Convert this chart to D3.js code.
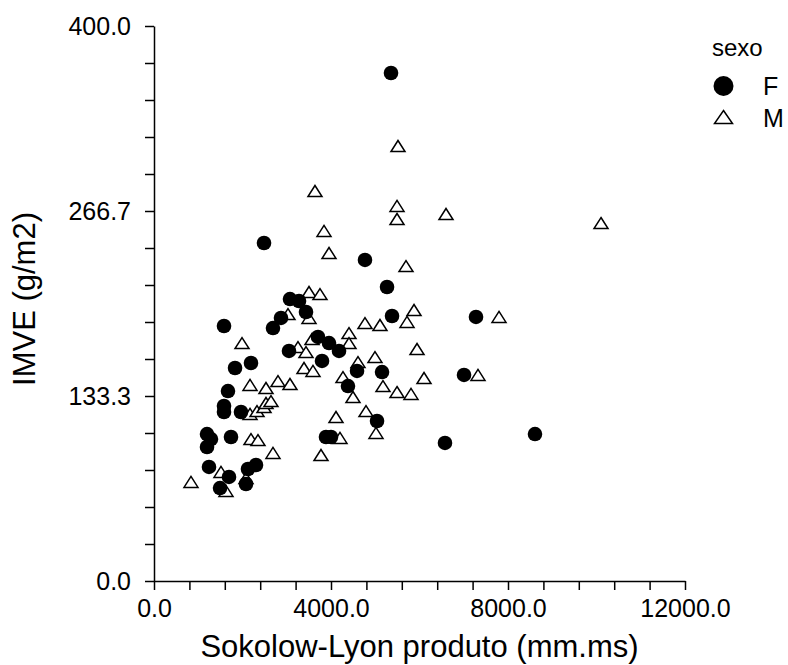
<!DOCTYPE html>
<html>
<head>
<meta charset="utf-8">
<script src="https://cdn.jsdelivr.net/npm/d3@7"></script>
<style>
  body { margin: 0; background: #fff; }
  svg { display: block; font-family: "Liberation Sans", Arial, sans-serif; }
  .axis path, .axis line { stroke: #000; stroke-width: 1.5; }
</style>
</head>
<body>
<script>
// sexo = F (filled circles)
const femX = [5356, 2486, 4768, 5266, 3073, 3277, 3435, 2870, 1582, 2689,
              3706, 3955, 3051, 4181, 3797, 1831, 2192, 1672, 1582, 1582,
              1966, 4588, 5153, 4384, 5040, 3887, 4000, 1198, 1288, 1198,
              1740, 1243, 1695, 2124, 2305, 1492, 2079, 5379, 7277, 7006,
              6576, 8610];
const femY = [366.1, 243.6, 231.4, 211.9, 203.2, 201.8, 193.9, 189.6, 183.8, 182.3,
              175.9, 171.5, 165.8, 165.8, 158.6, 153.5, 157.1, 136.9, 126.1, 121.8,
              121.8, 151.4, 150.6, 140.5, 115.3, 103.8, 103.8, 105.9, 102.3, 96.6,
              103.8, 82.2, 75.0, 80.7, 83.6, 67.0, 69.9, 191.0, 190.3, 148.5,
              99.5, 105.9];

// sexo = M (open triangles)
const masX = [5514, 3638, 5492, 5492, 6599, 10102, 3842, 3955, 5695, 3503,
              3751, 3028, 3503, 1989, 3254, 3571, 3435, 3390, 3593, 2170,
              2531, 2802, 3073, 2170, 2328, 2486, 2531, 2644, 4113, 2192,
              2350, 2689, 3774, 4203, 1514, 836, 1627, 2079, 5876, 5718,
              4768, 5107, 4407, 4407, 4610, 4994, 5944, 4271, 5175, 5492,
              5808, 6102, 7797, 7322, 4497, 4791, 5017];
const masY = [313.5, 281.1, 270.3, 260.9, 264.5, 258.0, 252.3, 236.4, 227.0, 208.3,
              206.8, 192.4, 189.6, 171.5, 168.6, 174.4, 165.0, 153.5, 151.4, 141.3,
              139.1, 144.1, 142.0, 120.4, 122.5, 125.4, 128.3, 129.7, 118.2, 102.3,
              101.6, 92.3, 90.8, 103.1, 78.6, 71.4, 64.9, 74.2, 195.3, 186.7,
              185.9, 184.5, 178.7, 171.5, 157.8, 161.4, 167.2, 147.0, 140.5, 136.2,
              134.8, 146.3, 190.3, 148.5, 132.6, 122.5, 106.7];

const xTicks = d3.range(0, 12001, 800);
const xLabels = [0, 4000, 8000, 12000];
const yTicks = d3.range(0, 16).map(i => i * 400 / 15);
const yLabels = [0, 400 / 3, 800 / 3, 400];

const width = 788, height = 665;
const margin = {top: 26, right: 103, bottom: 84, left: 154};

const svg = d3.select("body").append("svg")
    .attr("width", width)
    .attr("height", height);

const x = d3.scaleLinear().domain([0, 12000]).range([margin.left, width - margin.right]);
const y = d3.scaleLinear().domain([0, 400]).range([height - margin.bottom, margin.top]);

const isLabel = (list, v) => list.some(l => Math.abs(l - v) < 1e-6);

svg.append("g")
    .attr("class", "axis")
    .attr("transform", "translate(0," + y(0) + ")")
    .call(d3.axisBottom(x).tickValues(xTicks).tickSize(9).tickSizeOuter(0)
        .tickFormat(d => isLabel(xLabels, d) ? d3.format(".1f")(d) : ""))
    .call(g => g.selectAll("text")
        .attr("font-size", 25).attr("font-family", "Liberation Sans, Arial, sans-serif")
        .attr("fill", "#000").attr("dy", "1.05em").attr("y", 10));

svg.append("g")
    .attr("class", "axis")
    .attr("transform", "translate(" + x(0) + ",0)")
    .call(d3.axisLeft(y).tickValues(yTicks).tickSize(9).tickSizeOuter(0)
        .tickFormat(d => isLabel(yLabels, d) ? d3.format(".1f")(d) : ""))
    .call(g => g.selectAll("text")
        .attr("font-size", 25).attr("font-family", "Liberation Sans, Arial, sans-serif")
        .attr("fill", "#000").attr("x", -23));

// axis titles
svg.append("text")
    .attr("x", (x(0) + x(12000)) / 2)
    .attr("y", 657)
    .attr("text-anchor", "middle")
    .attr("font-size", 31)
    .text("Sokolow-Lyon produto (mm.ms)");

svg.append("text")
    .attr("transform", "translate(35," + 299 + ") rotate(-90)")
    .attr("text-anchor", "middle")
    .attr("font-size", 31)
    .text("IMVE (g/m2)");

// triangle shape, width w, height h, centred
function tri(w, h) {
    return "M0," + (-h / 2) + "L" + (w / 2) + "," + (h / 2) + "L" + (-w / 2) + "," + (h / 2) + "Z";
}

svg.append("g").selectAll("path")
    .data(d3.zip(masX, masY))
    .enter().append("path")
    .attr("d", tri(14, 11))
    .attr("transform", d => "translate(" + x(d[0]) + "," + y(d[1]) + ")")
    .attr("fill", "#fff")
    .attr("stroke", "#000")
    .attr("stroke-width", 1.5);

svg.append("g").selectAll("circle")
    .data(d3.zip(femX, femY))
    .enter().append("circle")
    .attr("cx", d => x(d[0]))
    .attr("cy", d => y(d[1]))
    .attr("r", 7.3)
    .attr("fill", "#000");

// legend
const legend = svg.append("g");
legend.append("text").attr("x", 712).attr("y", 56).attr("font-size", 24).text("sexo");
legend.append("circle").attr("cx", 723.5).attr("cy", 86).attr("r", 10).attr("fill", "#000");
legend.append("text").attr("x", 763).attr("y", 95).attr("font-size", 25).text("F");
legend.append("path").attr("d", tri(18, 13))
    .attr("transform", "translate(723.5,117)")
    .attr("fill", "#fff").attr("stroke", "#000").attr("stroke-width", 1.5);
legend.append("text").attr("x", 763).attr("y", 127).attr("font-size", 25).text("M");
</script>
</body>
</html>
